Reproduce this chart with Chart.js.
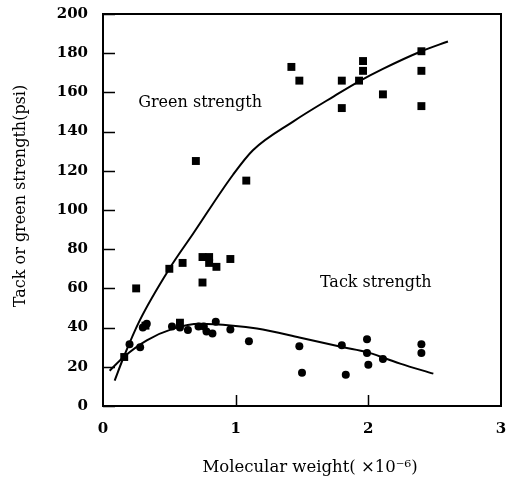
<!DOCTYPE html>
<html><head><meta charset="utf-8">
<script src="https://cdn.jsdelivr.net/npm/chart.js@4.4.0/dist/chart.umd.min.js"></script>
<style>html,body{margin:0;padding:0;background:#fff}</style>
</head><body>
<canvas id="c" width="508" height="485"></canvas>
<script>
// Green strength (squares)
const greenX = [0.16, 0.25, 0.32, 0.50, 0.58, 0.60, 0.70, 0.75, 0.75, 0.80, 0.80, 0.855, 0.96, 1.08, 1.42, 1.48, 1.80, 1.80, 1.93, 1.96, 1.96, 2.11, 2.40, 2.40, 2.40];
const greenY = [25, 60, 41, 70, 42.5, 73, 125, 76, 63, 76, 73, 71, 75, 115, 173, 166, 166, 152, 166, 176, 171, 159, 181, 171, 153];
// Tack strength (circles)
const tackX = [0.20, 0.28, 0.30, 0.33, 0.52, 0.58, 0.64, 0.72, 0.76, 0.78, 0.825, 0.85, 0.96, 1.10, 1.48, 1.50, 1.80, 1.83, 1.99, 1.99, 2.00, 2.11, 2.40, 2.40];
const tackY = [31.5, 30, 40, 42, 40.5, 40, 38.8, 40.5, 40.5, 38, 37, 43, 39, 33, 30.5, 17, 31, 16, 34, 27, 21, 24, 31.5, 27];
// Fitted curves
const greenFitX = [0.088, 0.156, 0.277, 0.50, 0.68, 0.98, 1.13, 1.43, 1.74, 1.94, 2.11, 2.40, 2.60];
const greenFitY = [13, 25, 43.7, 70, 88, 118, 130.5, 145, 158, 166, 172, 181, 186];
const tackFitX = [0.05, 0.156, 0.33, 0.53, 0.73, 0.98, 1.16, 1.48, 1.81, 1.99, 2.14, 2.24, 2.49];
const tackFitY = [18, 25, 33.5, 39.5, 42, 41, 39.5, 35, 30, 27.5, 24, 21.6, 16.5];
// Axis ticks
const xTicks = [0, 1, 2, 3];
const yTicks = [0, 20, 40, 60, 80, 100, 120, 140, 160, 180, 200];
const labels = [
  {text: 'Green strength', x: 0.265, y: 154.5},
  {text: 'Tack strength', x: 1.635, y: 62.8}
];
const xTitle = 'Molecular weight( \u00d710\u207b\u2076)';
const yTitle = 'Tack or green strength(psi)';

const pts = (xs, ys) => xs.map((x, i) => ({x, y: ys[i]}));
const FONT = 'DejaVu Serif';

const framePlugin = {
  id: 'frame',
  afterDatasetsDraw(chart) {
    const {ctx, chartArea: a, scales: {x, y}} = chart;
    ctx.save();
    ctx.strokeStyle = '#000';
    ctx.lineWidth = 2;
    ctx.strokeRect(a.left, a.top, a.right - a.left, a.bottom - a.top);
    ctx.lineWidth = 1.5;
    ctx.beginPath();
    yTicks.forEach(v => {
      const py = Math.round(y.getPixelForValue(v)) + 0.5;
      ctx.moveTo(a.left, py); ctx.lineTo(a.left + 12, py);
    });
    xTicks.slice(1, -1).forEach(v => {
      const px = Math.round(x.getPixelForValue(v)) + 0.5;
      ctx.moveTo(px, a.bottom); ctx.lineTo(px, a.bottom - 11);
    });
    ctx.stroke();
    ctx.fillStyle = '#000';
    ctx.font = '16px "' + FONT + '"';
    ctx.textAlign = 'left';
    ctx.textBaseline = 'middle';
    labels.forEach(l => ctx.fillText(l.text, x.getPixelForValue(l.x), y.getPixelForValue(l.y)));
    // axis titles
    ctx.textAlign = 'center';
    ctx.font = '16.5px "' + FONT + '"';
    ctx.fillText(xTitle, 310, 468);
    ctx.save();
    ctx.translate(21, 196);
    ctx.rotate(-Math.PI / 2);
    ctx.font = '16px "' + FONT + '"';
    ctx.fillText(yTitle, 0, 0);
    ctx.restore();
    ctx.restore();
  }
};

new Chart(document.getElementById('c'), {
  type: 'scatter',
  data: {
    datasets: [
      {data: pts(greenFitX, greenFitY), showLine: true, borderColor: '#000', borderWidth: 2, pointRadius: 0, tension: 0.4, cubicInterpolationMode: 'monotone', fill: false},
      {data: pts(tackFitX, tackFitY), showLine: true, borderColor: '#000', borderWidth: 2, pointRadius: 0, tension: 0.4, cubicInterpolationMode: 'monotone', fill: false},
      {data: pts(greenX, greenY), pointStyle: 'rect', pointRadius: 5.6, backgroundColor: '#000', borderColor: '#000', borderWidth: 0},
      {data: pts(tackX, tackY), pointStyle: 'circle', pointRadius: 4, backgroundColor: '#000', borderColor: '#000', borderWidth: 0}
    ]
  },
  options: {
    responsive: false,
    animation: false,
    devicePixelRatio: 1,
    layout: {padding: {left: 0, top: 14, right: 7, bottom: 0}},
    plugins: {legend: {display: false}, tooltip: {enabled: false}},
    scales: {
      x: {
        type: 'linear', min: 0, max: 3,
        afterFit: s => { s.height = 79; s.paddingLeft = 0; s.paddingRight = 0; },
        afterBuildTicks: s => { s.ticks = xTicks.map(v => ({value: v})); },
        grid: {display: false, drawTicks: false},
        border: {display: false},
        ticks: {color: '#000', padding: 14, font: {family: FONT, size: 15, weight: 'bold'}},
        title: {display: false}
      },
      y: {
        type: 'linear', min: 0, max: 200,
        afterFit: s => { s.width = 103; s.paddingTop = 0; s.paddingBottom = 0; },
        afterBuildTicks: s => { s.ticks = yTicks.map(v => ({value: v})); },
        grid: {display: false, drawTicks: false},
        border: {display: false},
        ticks: {color: '#000', padding: 15, font: {family: FONT, size: 15, weight: 'bold'}},
        title: {display: false}
      }
    }
  },
  plugins: [framePlugin]
});
</script>
</body></html>
